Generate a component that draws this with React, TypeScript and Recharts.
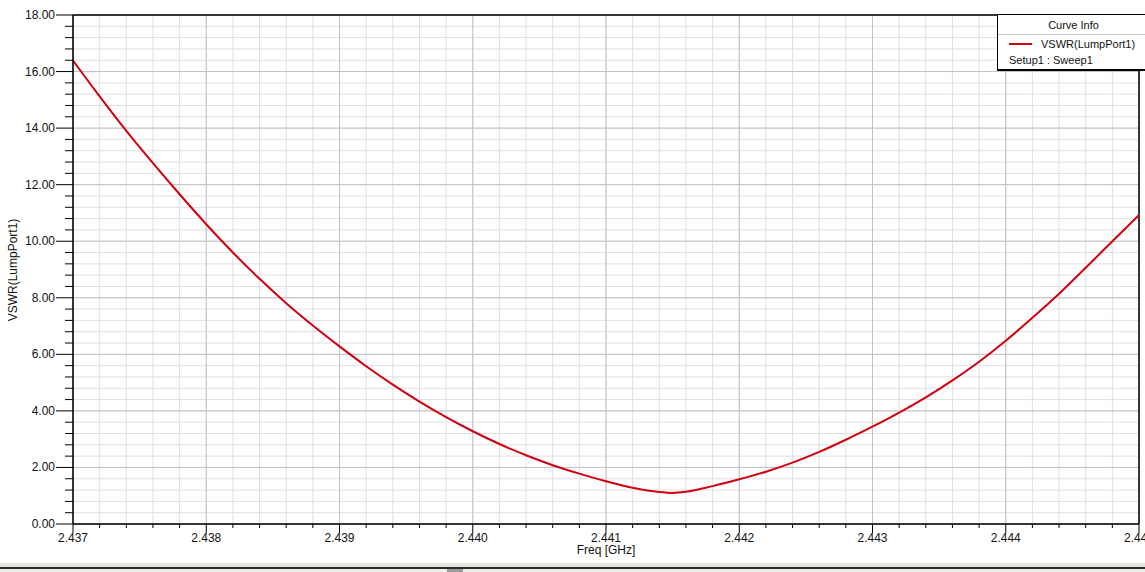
import React from 'react';
import { LineChart, Line, XAxis, YAxis, CartesianGrid, ReferenceLine, Label } from 'recharts';

const freqGHz = [
  2.437, 2.4372, 2.4374, 2.4376, 2.4378, 2.438, 2.4382, 2.4384, 2.4386, 2.4388,
  2.439, 2.4392, 2.4394, 2.4396, 2.4398, 2.44, 2.4402, 2.4404, 2.4406, 2.4408,
  2.441, 2.4412, 2.4414, 2.4415, 2.4416, 2.4418, 2.442, 2.4422, 2.4424, 2.4426,
  2.4428, 2.443, 2.4432, 2.4434, 2.4436, 2.4438, 2.444, 2.4442, 2.4444, 2.4446,
  2.4448, 2.445,
];
const vswr = [
  16.39, 15.12, 13.9, 12.76, 11.66, 10.6, 9.6, 8.67, 7.81, 7.02,
  6.28, 5.58, 4.93, 4.33, 3.78, 3.28, 2.83, 2.43, 2.08, 1.78,
  1.51, 1.28, 1.13, 1.1, 1.14, 1.34, 1.58, 1.85, 2.17, 2.55,
  2.98, 3.44, 3.94, 4.48, 5.08, 5.74, 6.48, 7.29, 8.14, 9.06,
  10.0, 10.93,
];

const xMajorTicks = [2.437, 2.438, 2.439, 2.44, 2.441, 2.442, 2.443, 2.444, 2.445];
const xAllTicks = [
  2.437, 2.4372, 2.4374, 2.4376, 2.4378, 2.438, 2.4382, 2.4384, 2.4386, 2.4388,
  2.439, 2.4392, 2.4394, 2.4396, 2.4398, 2.44, 2.4402, 2.4404, 2.4406, 2.4408,
  2.441, 2.4412, 2.4414, 2.4416, 2.4418, 2.442, 2.4422, 2.4424, 2.4426, 2.4428,
  2.443, 2.4432, 2.4434, 2.4436, 2.4438, 2.444, 2.4442, 2.4444, 2.4446, 2.4448,
  2.445,
];
const yMajorTicks = [0, 2, 4, 6, 8, 10, 12, 14, 16, 18];
const yAllTicks = [
  0, 0.4, 0.8, 1.2, 1.6, 2, 2.4, 2.8, 3.2, 3.6, 4, 4.4, 4.8, 5.2, 5.6, 6,
  6.4, 6.8, 7.2, 7.6, 8, 8.4, 8.8, 9.2, 9.6, 10, 10.4, 10.8, 11.2, 11.6, 12,
  12.4, 12.8, 13.2, 13.6, 14, 14.4, 14.8, 15.2, 15.6, 16, 16.4, 16.8, 17.2,
  17.6, 18,
];

const seriesName = 'VSWR(LumpPort1)';
const sweepName = 'Setup1 : Sweep1';
const legendTitle = 'Curve Info';
const xTitle = 'Freq [GHz]';
const yTitle = 'VSWR(LumpPort1)';

const data = freqGHz.map((f, i) => ({ f, v: vswr[i] }));

const FONT = '"Liberation Sans", Arial, sans-serif';
const RED = '#d2000f';

const isMajorX = (v: number) => xMajorTicks.some((m) => Math.abs(m - v) < 1e-7);
const isMajorY = (v: number) => yMajorTicks.some((m) => Math.abs(m - v) < 1e-7);

const XTick = (props: any) => {
  const { x, y, payload } = props;
  const major = isMajorX(payload.value);
  return (
    <g>
      <line x1={x} x2={x} y1={y} y2={y + (major ? 9 : 4)} stroke="#000" strokeWidth={1} />
      {major && (
        <text x={x} y={y + 18} textAnchor="middle" fontFamily={FONT} fontSize={12} fill="#111">
          {payload.value.toFixed(3)}
        </text>
      )}
    </g>
  );
};

const YTick = (props: any) => {
  const { x, y, payload } = props;
  const major = isMajorY(payload.value);
  return (
    <g>
      <line x1={x - (major ? 17 : 8)} x2={x} y1={y} y2={y} stroke="#000" strokeWidth={1} />
      {major && (
        <text x={x - 18} y={y + 4} textAnchor="end" fontFamily={FONT} fontSize={12} fill="#111">
          {payload.value.toFixed(2)}
        </text>
      )}
    </g>
  );
};

export default function App() {
  return (
    <div style={{ position: 'absolute', left: 0, top: 0, width: 1145, height: 572, background: '#fff', overflow: 'hidden' }}>
      <LineChart width={1145} height={572} data={data} margin={{ top: 15, right: 6, bottom: 0, left: 0 }}>
        <CartesianGrid stroke="#e0e0e0" strokeWidth={1} />
        {xMajorTicks.map((t) => (
          <ReferenceLine key={'vx' + t} x={t} stroke="#c2c2c2" strokeWidth={1} />
        ))}
        {yMajorTicks.map((t) => (
          <ReferenceLine key={'hy' + t} y={t} stroke="#c2c2c2" strokeWidth={1} />
        ))}
        <ReferenceLine y={18} stroke="#000" strokeWidth={1.5} />
        <ReferenceLine x={2.445} stroke="#000" strokeWidth={1.5} />
        <XAxis
          dataKey="f"
          type="number"
          domain={[2.437, 2.445]}
          ticks={xAllTicks}
          interval={0}
          height={48}
          tickSize={0}
          tickMargin={0}
          tick={<XTick />}
          axisLine={{ stroke: '#000', strokeWidth: 1.5 }}
          tickLine={false}
        >
          <Label
            content={() => (
              <text x={606} y={554} textAnchor="middle" fontFamily={FONT} fontSize={12} fill="#111">
                {xTitle}
              </text>
            )}
          />
        </XAxis>
        <YAxis
          type="number"
          domain={[0, 18]}
          ticks={yAllTicks}
          interval={0}
          width={73}
          tickSize={0}
          tickMargin={0}
          tick={<YTick />}
          axisLine={{ stroke: '#000', strokeWidth: 1.5 }}
          tickLine={false}
        >
          <Label
            content={() => (
              <text
                x={13}
                y={270}
                transform="rotate(-90, 13, 270)"
                textAnchor="middle"
                dominantBaseline="central"
                fontFamily={FONT}
                fontSize={12}
                fill="#111"
              >
                {yTitle}
              </text>
            )}
          />
        </YAxis>
        <Line
          type="monotone"
          dataKey="v"
          stroke={RED}
          strokeWidth={2}
          dot={false}
          activeDot={false}
          isAnimationActive={false}
        />
      </LineChart>

      <div
        style={{
          position: 'absolute',
          left: 997,
          top: 14,
          width: 160,
          height: 54,
          background: '#fff',
          borderLeft: '1px solid #000',
          borderTop: '1px solid #000',
          borderBottom: '2px solid #000',
          fontFamily: FONT,
          fontSize: 11,
          color: '#111',
        }}
      >
        <div style={{ position: 'absolute', left: 0, width: 151, top: 3, textAlign: 'center', lineHeight: '14px' }}>
          {legendTitle}
        </div>
        <div style={{ position: 'absolute', left: 0, width: 160, top: 19, height: 1, background: '#c8c8c8' }} />
        <div style={{ position: 'absolute', left: 11, top: 28, width: 23, height: 2, background: RED }} />
        <div style={{ position: 'absolute', left: 43, top: 22, lineHeight: '14px', whiteSpace: 'nowrap' }}>{seriesName}</div>
        <div style={{ position: 'absolute', left: 11, top: 38, lineHeight: '14px', whiteSpace: 'nowrap' }}>{sweepName}</div>
      </div>

      <div style={{ position: 'absolute', left: 0, top: 563, width: 1145, height: 4, background: '#e6e5de' }} />
      <div style={{ position: 'absolute', left: 0, top: 567, width: 1145, height: 2, background: '#2a2a2a' }} />
      <div style={{ position: 'absolute', left: 0, top: 569, width: 1145, height: 3, background: '#efeee8' }} />
      <div style={{ position: 'absolute', left: 447, top: 569, width: 16, height: 3, background: '#9a9a9a' }} />
    </div>
  );
}
